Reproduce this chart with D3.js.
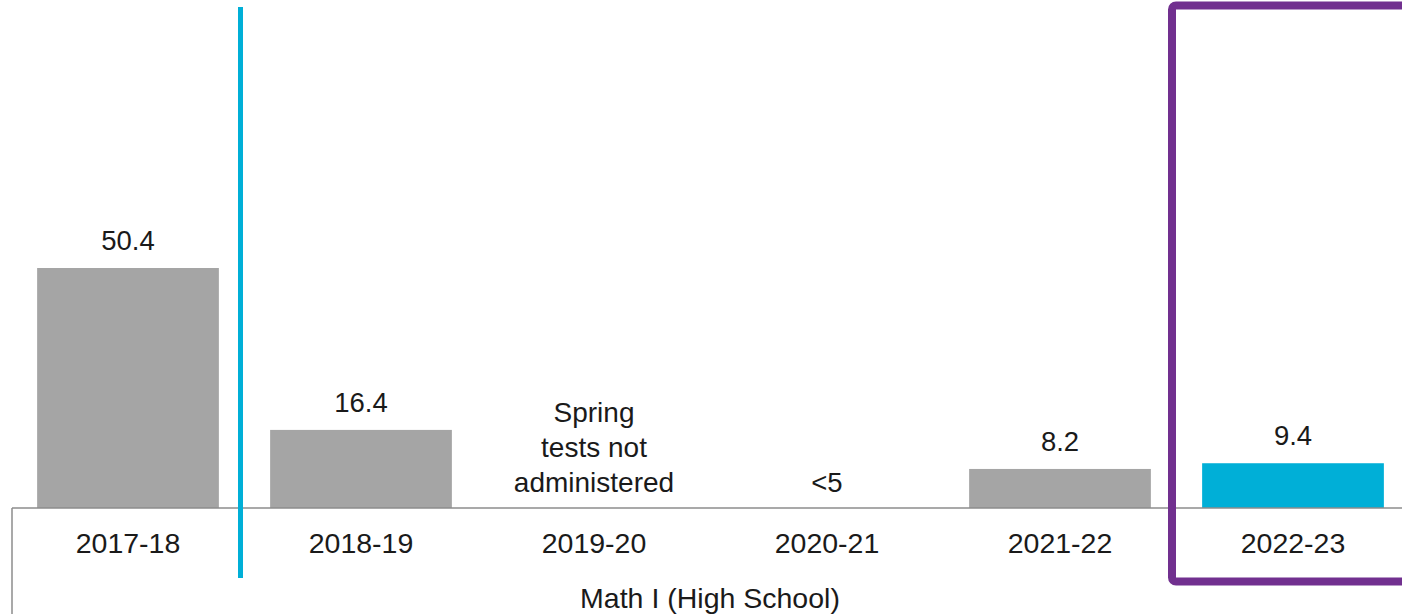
<!DOCTYPE html>
<html><head><meta charset="utf-8">
<script src="https://cdn.jsdelivr.net/npm/d3@7"></script>
<style>body{margin:0;background:#fff}svg{display:block}text{font-family:"Liberation Sans",Arial,sans-serif;fill:#1a1a1a}</style>
</head><body><svg id="c" width="1402" height="614"></svg>
<script>
const categories = ["2017-18","2018-19","2019-20","2020-21","2021-22","2022-23"];
const values = [50.4, 16.4, null, null, 8.2, 9.4];
const valueLabels = ["50.4","16.4","","<5","8.2","9.4"];
const highlight = [false,false,false,false,false,true];
const noteCategory = "2019-20";
const noteLines = ["Spring","tests not","administered"];
const axisTitle = "Math I (High School)";

const svg = d3.select("#c");
const baseY = 508;
const x = d3.scaleBand().domain(categories).range([11.5, 1409.5]).paddingInner(0.22).paddingOuter(0.11);
const y = d3.scaleLinear().domain([0, 50.4]).range([baseY, 268]);

// bars
svg.selectAll("rect.bar").data(categories.filter((c,i)=>values[i]!=null)).enter().append("rect")
  .attr("x", c=>x(c)).attr("width", x.bandwidth())
  .attr("y", c=>y(values[categories.indexOf(c)]))
  .attr("height", c=>baseY - y(values[categories.indexOf(c)]))
  .attr("fill", c=>highlight[categories.indexOf(c)] ? "#00AFD7" : "#A5A5A5");

// value labels
categories.forEach((c,i)=>{
  if(!valueLabels[i]) return;
  const top = values[i]!=null ? y(values[i]) : baseY;
  svg.append("text").attr("x", x(c)+x.bandwidth()/2).attr("y", values[i]!=null ? top-18 : 492)
    .attr("text-anchor","middle").attr("font-size",27.5).text(valueLabels[i]);
});
// note
noteLines.forEach((l,j)=>{
  svg.append("text").attr("x", x(noteCategory)+x.bandwidth()/2).attr("y", 422 + j*35)
    .attr("text-anchor","middle").attr("font-size",28).attr("fill","#333").text(l);
});

// axis
const axisG = svg.append("g").attr("transform",`translate(0,${baseY})`);
axisG.call(d3.axisBottom(x).tickSize(0).tickPadding(0).tickFormat(""));
axisG.select(".domain").attr("stroke","#8c8c8c").attr("stroke-width",1.5).attr("d","M12,0H1402");
svg.append("line").attr("x1",12).attr("x2",12).attr("y1",baseY).attr("y2",614).attr("stroke","#8c8c8c").attr("stroke-width",1.5);
categories.forEach(c=>{
  svg.append("text").attr("x", x(c)+x.bandwidth()/2).attr("y",553).attr("text-anchor","middle").attr("font-size",28.5).text(c);
});
svg.append("text").attr("x",710).attr("y",608).attr("text-anchor","middle").attr("font-size",28.5).text(axisTitle);

// annotations
svg.append("line").attr("x1",240.5).attr("x2",240.5).attr("y1",7).attr("y2",578).attr("stroke","#00AFD7").attr("stroke-width",5);
svg.append("rect").attr("x",1172).attr("y",5.5).attr("width",260).attr("height",576).attr("rx",4)
  .attr("fill","none").attr("stroke","#71308F").attr("stroke-width",8);
</script></body></html>
